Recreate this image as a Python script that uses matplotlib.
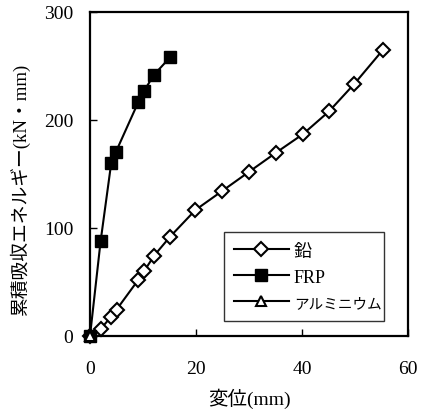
import matplotlib
matplotlib.use("Agg")
import matplotlib.pyplot as plt

plt.rcParams['font.family'] = ['Liberation Serif', 'Noto Sans CJK JP']

# Displacement (mm) and cumulative absorbed energy (kN·mm)
lead_x = [0, 2.0, 4.0, 5.0, 9.1, 10.2, 12.1, 15.1, 19.9, 25.0, 30.0, 35.0, 40.2, 45.1, 49.9, 55.2]
lead_y = [0, 6.5, 17.9, 24.4, 51.9, 59.9, 74.4, 91.9, 116.7, 134.5, 152.0, 169.4, 187.0, 208.0, 233.6, 264.5]

frp_x = [0, 2.0, 4.0, 4.9, 9.1, 10.2, 12.1, 15.1]
frp_y = [0, 87.7, 160.0, 170.6, 216.4, 227.0, 242.0, 258.0]

alu_x = [0]
alu_y = [0]

xticks = [0, 20, 40, 60]
yticks = [0, 100, 200, 300]

series_labels = ['鉛', 'FRP', 'アルミニウム']
xlabel = '変位(mm)'
ylabel = '累積吸収エネルギー(kN・mm)'

fig = plt.figure(figsize=(4.21, 4.14), dpi=100)
ax = fig.add_axes([90 / 421, 77 / 414, 318 / 421, 324 / 414])

ax.plot(lead_x, lead_y, color='black', lw=1.5, marker='D', ms=7,
        mfc='white', mec='black', mew=1.5, label=series_labels[0], clip_on=False, zorder=3)
ax.plot(frp_x, frp_y, color='black', lw=1.5, marker='s', ms=8,
        mfc='black', mec='black', label=series_labels[1], clip_on=False, zorder=3)
ax.plot(alu_x, alu_y, color='black', lw=1.5, marker='^', ms=7,
        mfc='white', mec='black', mew=1.5, label=series_labels[2], clip_on=False, zorder=4)

ax.set_xlim(0, 60)
ax.set_ylim(0, 300)
ax.set_xticks(xticks)
ax.set_yticks(yticks)
ax.tick_params(axis='both', direction='in', length=5, width=1, labelsize=14)
ax.tick_params(axis='x', pad=17)
ax.tick_params(axis='y', pad=12)
for sp in ax.spines.values():
    sp.set_linewidth(1.6)

ax.set_xlabel(xlabel, fontsize=14, labelpad=8)
ax.set_ylabel(ylabel, fontsize=13.5)
ax.yaxis.set_label_coords(-0.19, 0.455)

leg = ax.legend(loc='lower left', bbox_to_anchor=(0.42, 0.046, 0.506, 0.306),
                mode='expand', fontsize=13, frameon=True, fancybox=False,
                edgecolor='black', handlelength=3.0, borderaxespad=0,
                labelspacing=0.5, handletextpad=0.3, borderpad=0.6)
leg.get_frame().set_linewidth(1.0)
leg.get_texts()[2].set_fontsize(10.5)

fig.savefig('out.png', dpi=100)
